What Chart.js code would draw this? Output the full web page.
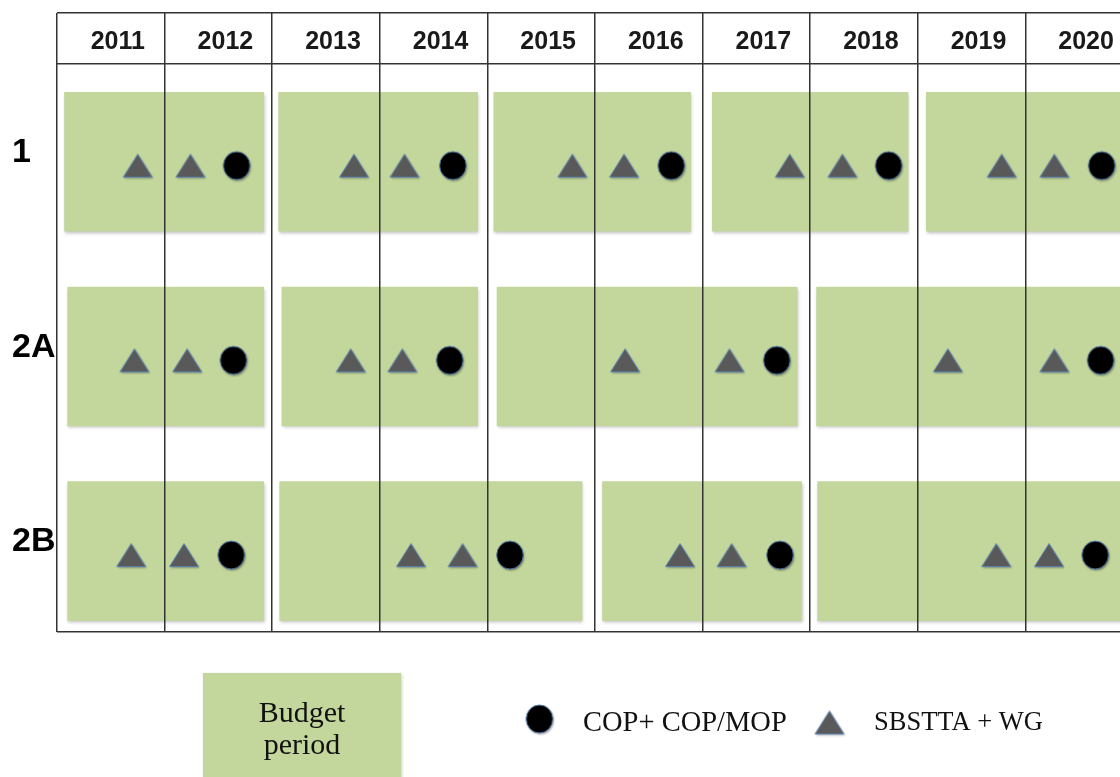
<!DOCTYPE html>
<html>
<head>
<meta charset="utf-8">
<title>Budget periods and meetings</title>
<script src="https://cdn.jsdelivr.net/npm/chart.js@4.4.1/dist/chart.umd.min.js"></script>
<style>
  html, body { margin: 0; padding: 0; background: #fff; overflow: hidden; }
  canvas { display: block; }
</style>
</head>
<body>
<canvas id="grafico" width="1120" height="777"></canvas>
<script>
// Anos (colunas) e rótulos do cabeçalho
const years = [2011, 2012, 2013, 2014, 2015, 2016, 2017, 2018, 2019, 2020];
const yearLabels = ["2011", "2012", "2013", "2014", "2015", "2016", "2017", "2018", "2019", "2020"];

// Linhas
const rowLabels = ["1", "2A", "2B"];
const rowValues = [1, 2, 3];

// Períodos orçamentários [início, fim] por linha
const budgetRow1 = [[2011.07, 2012.92], [2013.06, 2014.91], [2015.06, 2016.89], [2017.09, 2018.91], [2019.08, 2020.95]];
const budgetRow2A = [[2011.10, 2012.92], [2013.09, 2014.91], [2015.09, 2017.88], [2018.06, 2020.95]];
const budgetRow2B = [[2011.10, 2012.92], [2013.07, 2015.88], [2016.07, 2017.92], [2018.07, 2020.95]];

// COP + COP/MOP (círculos)
const copRow1 = [2012.67, 2014.68, 2016.71, 2018.73, 2020.71];
const copRow2A = [2012.64, 2014.65, 2017.69, 2020.70];
const copRow2B = [2012.62, 2015.21, 2017.72, 2020.65];

// SBSTTA + WG (triângulos)
const sbsttaRow1 = [2011.75, 2012.24, 2013.76, 2014.23, 2015.79, 2016.27, 2017.81, 2018.30, 2019.78, 2020.27];
const sbsttaRow2A = [2011.72, 2012.21, 2013.73, 2014.21, 2016.28, 2017.25, 2019.28, 2020.27];
const sbsttaRow2B = [2011.69, 2012.18, 2014.29, 2014.77, 2016.79, 2017.27, 2019.73, 2020.22];

// limites dos eixos
const X_MIN = 2011, X_MAX = 2020.88;
const Y_TOP = 0.216, Y_HEADER = 0.478, Y_BOTTOM = 3.395;

const VERDE = "#c3d69b";
const COR_LINHA = "#333333";
const FONTE_SANS = "'Liberation Sans', Arial, sans-serif";
const FONTE_SERIF = "'Liberation Serif', 'Times New Roman', serif";

// Marcadores desenhados em canvas (círculo preto e triângulo cinza)
function criarCirculo() {
  const c = document.createElement("canvas");
  c.width = 34; c.height = 34;
  const g = c.getContext("2d");
  g.shadowColor = "rgba(0,0,0,0.35)";
  g.shadowBlur = 2;
  g.shadowOffsetX = 1;
  g.shadowOffsetY = 1.5;
  g.beginPath();
  g.ellipse(17, 17, 13.3, 14, 0, 0, Math.PI * 2);
  g.fillStyle = "#000";
  g.fill();
  g.shadowColor = "transparent";
  g.lineWidth = 1;
  g.strokeStyle = "#4f79ad";
  g.stroke();
  return c;
}

function criarTriangulo() {
  const c = document.createElement("canvas");
  c.width = 34; c.height = 30;
  const g = c.getContext("2d");
  g.shadowColor = "rgba(0,0,0,0.3)";
  g.shadowBlur = 2;
  g.shadowOffsetX = 1;
  g.shadowOffsetY = 1.5;
  g.beginPath();
  g.moveTo(17, 3.5);
  g.lineTo(31.5, 26.5);
  g.lineTo(2.5, 26.5);
  g.closePath();
  g.fillStyle = "#595959";
  g.fill();
  g.shadowColor = "transparent";
  g.lineWidth = 1;
  g.strokeStyle = "#5a82b4";
  g.stroke();
  return c;
}

const imgCirculo = criarCirculo();
const imgTriangulo = criarTriangulo();

// Monta os dados dos datasets
const budgetRows = [budgetRow1, budgetRow2A, budgetRow2B];
const copRows = [copRow1, copRow2A, copRow2B];
const sbsttaRows = [sbsttaRow1, sbsttaRow2A, sbsttaRow2B];

const dadosBudget = [];
budgetRows.forEach((lista, i) => {
  lista.forEach((p) => dadosBudget.push({ x: p, y: rowValues[i] - 0.02 }));
});
const dadosCop = [];
copRows.forEach((lista, i) => {
  lista.forEach((ano) => dadosCop.push({ x: ano, y: rowValues[i] }));
});
const dadosSbstta = [];
sbsttaRows.forEach((lista, i) => {
  lista.forEach((ano) => dadosSbstta.push({ x: ano, y: rowValues[i] }));
});

// ticks do eixo y: bordas, linha do cabeçalho e rótulos das linhas
const ticksY = [Y_TOP, Y_HEADER].concat(rowValues.map((v) => v - 0.068), [Y_BOTTOM]);
const ehLinha = (i) => i === 0 || i === 1 || i === ticksY.length - 1;

// Sombra nas caixas verdes
const sombraCaixas = {
  id: "sombraCaixas",
  beforeDatasetDraw(chart, args) {
    if (args.meta.type !== "bar") return;
    const ctx = chart.ctx;
    ctx.save();
    ctx.shadowColor = "rgba(0,0,0,0.22)";
    ctx.shadowBlur = 3;
    ctx.shadowOffsetX = 1;
    ctx.shadowOffsetY = 2;
  },
  afterDatasetDraw(chart, args) {
    if (args.meta.type !== "bar") return;
    chart.ctx.restore();
  },
};

// Rótulos dos anos no cabeçalho
const cabecalhoAnos = {
  id: "cabecalhoAnos",
  afterDraw(chart) {
    const { ctx, scales } = chart;
    const yMeio = (scales.y.getPixelForValue(Y_TOP) + scales.y.getPixelForValue(Y_HEADER)) / 2 + 4;
    ctx.save();
    ctx.font = "bold 25px " + FONTE_SANS;
    ctx.fillStyle = "#1a1a1a";
    ctx.textAlign = "center";
    ctx.textBaseline = "middle";
    years.forEach((ano, i) => {
      ctx.fillText(yearLabels[i], scales.x.getPixelForValue(ano + 0.5) + 7, yMeio);
    });
    ctx.restore();
  },
};

// Legenda embaixo
const legenda = {
  id: "legenda",
  afterDraw(chart) {
    const ctx = chart.ctx;
    const ds = chart.data.datasets;
    ctx.save();
    ctx.shadowColor = "rgba(0,0,0,0.2)";
    ctx.shadowBlur = 3;
    ctx.shadowOffsetX = 1;
    ctx.shadowOffsetY = 1;
    ctx.fillStyle = VERDE;
    ctx.fillRect(203, 673, 198, 120);
    ctx.shadowColor = "transparent";

    ctx.fillStyle = "#111";
    ctx.font = "30px " + FONTE_SERIF;
    ctx.textAlign = "center";
    ctx.textBaseline = "alphabetic";
    const partes = ds[0].label.split(" ");
    ctx.fillText(partes[0], 302, 722);
    ctx.fillText(partes[1], 302, 754);

    ctx.drawImage(imgCirculo, 539.5 - imgCirculo.width / 2, 719 - imgCirculo.height / 2);
    ctx.drawImage(imgTriangulo, 829.5 - imgTriangulo.width / 2, 722.5 - imgTriangulo.height / 2);

    ctx.textAlign = "left";
    ctx.font = "28.5px " + FONTE_SERIF;
    ctx.fillText(ds[1].label, 583, 731);
    ctx.font = "26.5px " + FONTE_SERIF;
    ctx.fillText(ds[2].label, 874, 730);
    ctx.restore();
  },
};

new Chart(document.getElementById("grafico"), {
  type: "scatter",
  data: {
    datasets: [
      {
        type: "bar",
        label: "Budget period",
        indexAxis: "y",
        data: dadosBudget,
        backgroundColor: VERDE,
        borderWidth: 0,
        barThickness: 139,
        grouped: false,
        order: 3,
      },
      {
        label: "COP+ COP/MOP",
        data: dadosCop,
        pointStyle: imgCirculo,
        pointRadius: 14,
        order: 1,
      },
      {
        label: "SBSTTA + WG",
        data: dadosSbstta,
        pointStyle: imgTriangulo,
        pointRadius: 14,
        order: 2,
      },
    ],
  },
  options: {
    responsive: false,
    animation: false,
    datasets: { bar: { indexAxis: "y" } },
    layout: { autoPadding: false, padding: { left: 12, top: 13, right: 0, bottom: 145 } },
    plugins: {
      legend: { display: false },
      tooltip: { enabled: false },
    },
    scales: {
      x: {
        type: "linear",
        min: X_MIN,
        max: X_MAX,
        offset: false,
        afterBuildTicks: (scale) => {
          scale.ticks = years.map((v) => ({ value: v }));
        },
        afterFit: (scale) => {
          scale.height = 0;
        },
        border: { display: false },
        grid: { offset: false, drawTicks: false, color: COR_LINHA, lineWidth: 1.5, z: 1 },
        ticks: { display: false, autoSkip: false },
      },
      y: {
        type: "linear",
        reverse: true,
        min: Y_TOP,
        max: Y_BOTTOM,
        offset: false,
        afterBuildTicks: (scale) => {
          scale.ticks = ticksY.map((v) => ({ value: v }));
        },
        afterFit: (scale) => {
          scale.width = 45;
        },
        border: { display: false },
        grid: {
          offset: false,
          drawTicks: false,
          lineWidth: 1.5,
          color: (c) => (ehLinha(c.index) ? COR_LINHA : "rgba(0,0,0,0)"),
        },
        ticks: {
          autoSkip: false,
          crossAlign: "far",
          padding: 0,
          color: "#000",
          font: (c) => (c.index >= 2 && c.index <= 4
            ? { family: FONTE_SANS, size: 34, weight: "bold" }
            : { family: FONTE_SANS, size: 1 }),
          callback: (valor, i) => (i >= 2 && i <= 4 ? rowLabels[i - 2] : ""),
        },
      },
    },
  },
  plugins: [sombraCaixas, cabecalhoAnos, legenda],
});
</script>
</body>
</html>
